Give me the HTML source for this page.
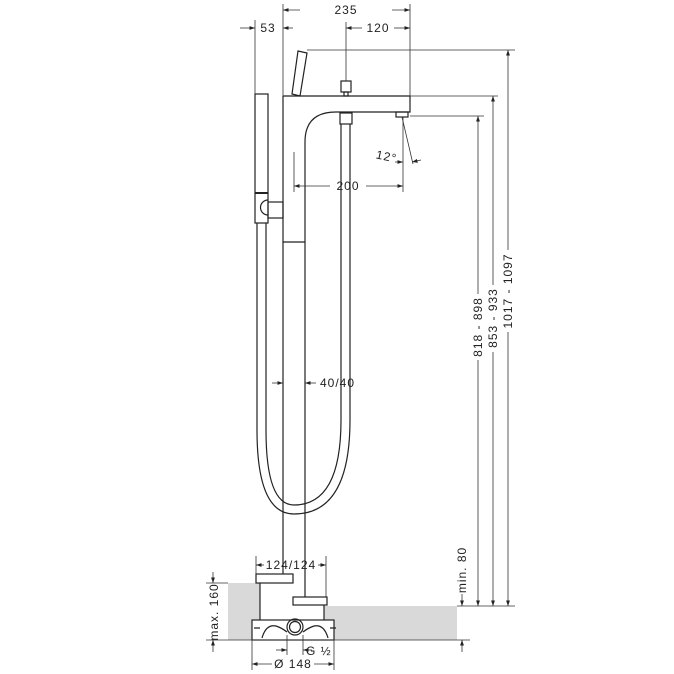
<!DOCTYPE html>
<html><head><meta charset="utf-8"><style>
html,body{margin:0;padding:0;background:#fff}
svg{display:block}
text{font-family:"Liberation Sans",sans-serif;font-size:12px;fill:#222;letter-spacing:1px}
</style></head><body>
<svg width="674" height="674" viewBox="0 0 674 674" xmlns="http://www.w3.org/2000/svg">
<defs>
<marker id="a" viewBox="0 0 10 10" refX="10" refY="5" markerWidth="7" markerHeight="7" orient="auto-start-reverse"><path d="M0,1.5 L10,5 L0,8.5z" fill="#222"/></marker>
</defs>
<!-- floor -->
<rect x="228" y="583" width="32" height="57" fill="#d9d9d9"/>
<rect x="260" y="606" width="197" height="34" fill="#d9d9d9"/>
<rect x="260" y="583" width="64" height="37" fill="#fff"/>
<g fill="none" stroke="#222" stroke-width="1.2">
<!-- spout/body -->
<path d="M283,96 H410 V112 H336 Q305,112 305,142 V242"/>
<line x1="283" y1="96" x2="283" y2="574"/>
<line x1="305" y1="242" x2="305" y2="597"/>
<line x1="283" y1="242" x2="305" y2="242"/>
<rect x="396" y="112" width="12" height="5"/>
<!-- lever -->
<path d="M298,51 L307,53 L300,96 L292,94 Z"/>
<!-- diverter -->
<rect x="341" y="81" width="10" height="11"/>
<rect x="344" y="92" width="4" height="4"/>
<rect x="340" y="113" width="12" height="11"/>
<!-- hose -->
<path d="M341,124 V420 Q341,505 294,505 Q266,505 266,430 V223"/>
<path d="M350,124 V420 Q350,514 294,514 Q257,514 257,430 V223"/>
<!-- hand shower -->
<rect x="255" y="94" width="13" height="129"/>
<line x1="255" y1="193" x2="268" y2="193" stroke-width="2"/>
<path d="M268,200 A7,7 0 0 0 268,215"/>
<rect x="268" y="202" width="15" height="16"/>
<!-- box -->
<rect x="256" y="574" width="37" height="9" fill="#fff"/>
<path d="M260,583 V620 M324,605 V620"/>
<rect x="293" y="597" width="34" height="8" fill="#fff"/>
<rect x="252" y="620" width="82" height="20" fill="#fff"/>
<circle cx="295" cy="627" r="8"/><circle cx="295" cy="627" r="5.5"/>
<path d="M262,638 Q266,624 276,626 Q282,628 287,632 M328,638 Q324,624 314,626 Q308,628 303,632"/>
<path d="M254,628 H260 M330,628 H336"/>
</g>
<g fill="none" stroke="#333" stroke-width="0.8">
<line x1="283" y1="4" x2="283" y2="96"/>
<line x1="410" y1="4" x2="410" y2="96"/>
<line x1="255" y1="20" x2="255" y2="94"/>
<line x1="346" y1="22" x2="346" y2="81"/>
<line x1="294" y1="152" x2="294" y2="192"/>
<line x1="403" y1="117" x2="403" y2="192"/>
<line x1="402" y1="117" x2="413" y2="164"/>
<line x1="307" y1="50" x2="515" y2="50"/>
<line x1="410" y1="96" x2="498" y2="96"/>
<line x1="410" y1="116" x2="484" y2="116"/>
<line x1="256" y1="556" x2="256" y2="574"/>
<line x1="326" y1="556" x2="326" y2="597"/>
<line x1="252" y1="640" x2="252" y2="670"/>
<line x1="334" y1="640" x2="334" y2="670"/>
<line x1="287" y1="635" x2="287" y2="655"/>
<line x1="303" y1="635" x2="303" y2="655"/>
<line x1="206" y1="583" x2="228" y2="583"/>
<line x1="206" y1="640" x2="470" y2="640"/>
<line x1="457" y1="606" x2="515" y2="606"/>
<line x1="283" y1="10" x2="300" y2="10" marker-start="url(#a)"/>
<line x1="392" y1="10" x2="410" y2="10" marker-end="url(#a)"/>
<line x1="240" y1="28" x2="255" y2="28" marker-end="url(#a)"/>
<line x1="283" y1="28" x2="293" y2="28" marker-start="url(#a)"/>
<line x1="346" y1="28" x2="362" y2="28" marker-start="url(#a)"/>
<line x1="394" y1="28" x2="410" y2="28" marker-end="url(#a)"/>
<line x1="294" y1="186" x2="330" y2="186" marker-start="url(#a)"/>
<line x1="366" y1="186" x2="403" y2="186" marker-end="url(#a)"/>
<line x1="395" y1="162" x2="403" y2="162" marker-end="url(#a)"/>
<line x1="421" y1="160" x2="412" y2="162" marker-end="url(#a)"/>
<line x1="272" y1="383" x2="283" y2="383" marker-end="url(#a)"/>
<line x1="316" y1="383" x2="305" y2="383" marker-end="url(#a)"/>
<line x1="508" y1="50" x2="508" y2="250" marker-start="url(#a)"/>
<line x1="508" y1="332" x2="508" y2="606" marker-end="url(#a)"/>
<line x1="493" y1="96" x2="493" y2="285" marker-start="url(#a)"/>
<line x1="493" y1="352" x2="493" y2="606" marker-end="url(#a)"/>
<line x1="478" y1="116" x2="478" y2="294" marker-start="url(#a)"/>
<line x1="478" y1="360" x2="478" y2="606" marker-end="url(#a)"/>
<line x1="462" y1="594" x2="462" y2="606" marker-end="url(#a)"/>
<line x1="462" y1="652" x2="462" y2="640" marker-end="url(#a)"/>
<line x1="256" y1="565" x2="264" y2="565" marker-start="url(#a)"/>
<line x1="318" y1="565" x2="326" y2="565" marker-end="url(#a)"/>
<line x1="213" y1="572" x2="213" y2="583" marker-end="url(#a)"/>
<line x1="213" y1="652" x2="213" y2="640" marker-end="url(#a)"/>
<line x1="276" y1="650" x2="287" y2="650" marker-end="url(#a)"/>
<line x1="312" y1="650" x2="303" y2="650" marker-end="url(#a)"/>
<line x1="252" y1="664" x2="272" y2="664" marker-start="url(#a)"/>
<line x1="314" y1="664" x2="334" y2="664" marker-end="url(#a)"/>
</g>
<text x="346" y="14" text-anchor="middle">235</text>
<text x="268" y="32" text-anchor="middle">53</text>
<text x="378" y="32" text-anchor="middle">120</text>
<text x="348" y="190" text-anchor="middle">200</text>
<text x="376" y="160" transform="rotate(12 384 156)">12°</text>
<text x="320" y="387">40/40</text>
<text x="291" y="569" text-anchor="middle">124/124</text>
<text x="306" y="655">G ½</text>
<text x="293" y="668" text-anchor="middle">Ø 148</text>
<text transform="translate(512,291) rotate(-90)" text-anchor="middle">1017 - 1097</text>
<text transform="translate(497,318) rotate(-90)" text-anchor="middle">853 - 933</text>
<text transform="translate(482,327) rotate(-90)" text-anchor="middle">818 - 898</text>
<text transform="translate(466,570) rotate(-90)" text-anchor="middle">min. 80</text>
<text transform="translate(218,612) rotate(-90)" text-anchor="middle">max. 160</text>
</svg>
</body></html>
